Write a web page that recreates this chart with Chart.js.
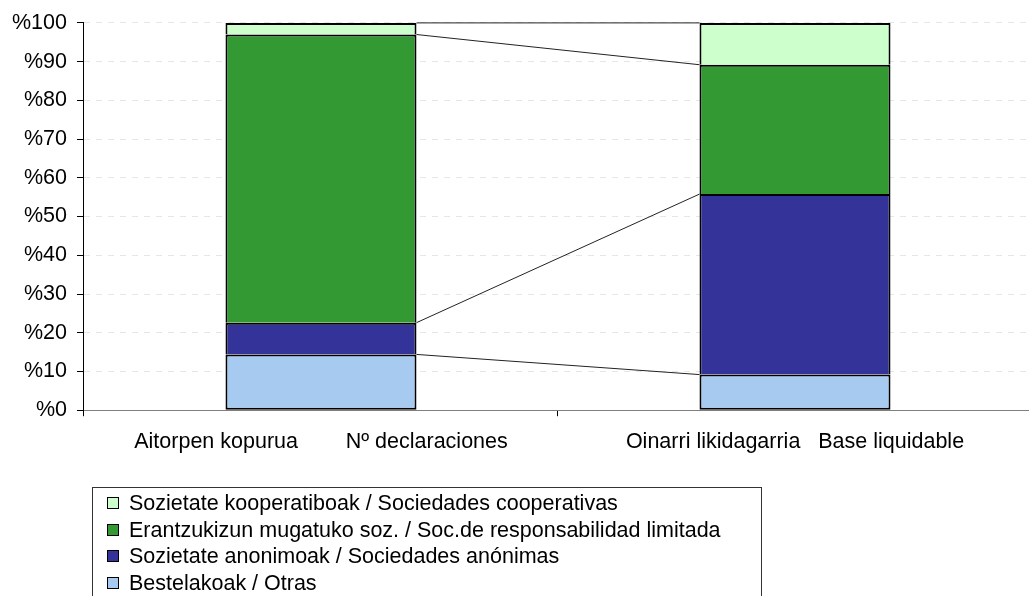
<!DOCTYPE html>
<html>
<head>
<meta charset="utf-8">
<script src="https://cdn.jsdelivr.net/npm/chart.js@4"></script>
<style>
  html, body { margin: 0; padding: 0; background: #fff; overflow: hidden; }
  #wrap { position: relative; width: 1029px; height: 596px; overflow: hidden; }
  #chart { position: absolute; left: 0; top: 0; }
  #legend {
    position: absolute; left: 92px; top: 487px; width: 670px; height: 130px;
    border: 1px solid #333; box-sizing: border-box; padding: 2px 0 0 14px;
    font-family: "Liberation Sans", Arial, sans-serif; font-size: 21.5px; color: #000;
  }
  #legend div { height: 26.5px; line-height: 26.5px; white-space: nowrap; }
  #legend span.sw { display: inline-block; width: 10px; height: 10px; border: 1px solid #000;
    margin-right: 10px; vertical-align: middle; position: relative; top: -1px; }
</style>
</head>
<body>
<div id="wrap">
  <canvas id="chart" width="1032" height="596"></canvas>
  <div id="legend"></div>
</div>
<script>
// Kategoriak
var categories = ['Aitorpen kopurua        Nº declaraciones', 'Oinarri likidagarria   Base liquidable'];

// Serieak (behetik gora)
var seriesNames = [
    'Bestelakoak / Otras',
    'Sozietate anonimoak / Sociedades anónimas',
    'Erantzukizun mugatuko soz. / Soc.de responsabilidad limitada',
    'Sozietate kooperatiboak / Sociedades cooperativas'
];
var bestelakoak = [14.4, 9.2];
var anonimoak = [8.2, 46.6];
var mugatuak = [74.4, 33.4];
var kooperatiboak = [3.0, 10.8];
var seriesColors = ['#a6caf0', '#333399', '#339933', '#ccffcc'];

var yTicks = [0, 10, 20, 30, 40, 50, 60, 70, 80, 90, 100];

var seriesData = [bestelakoak, anonimoak, mugatuak, kooperatiboak];

var fontFamily = '"Liberation Sans", Arial, sans-serif';

// Barren arteko lotura-lerroak
var seriesLines = {
    id: 'seriesLines',
    afterDatasetsDraw: function (chart) {
        var ctx = chart.ctx;
        var y = chart.scales.y;
        var m0 = chart.getDatasetMeta(0).data;
        var x1 = m0[0].x + m0[0].width / 2;
        var x2 = m0[1].x - m0[1].width / 2;
        var s1 = 0, s2 = 0;
        ctx.save();
        ctx.strokeStyle = '#222';
        ctx.lineWidth = 1;
        for (var i = 0; i < seriesData.length; i++) {
            s1 += seriesData[i][0];
            s2 += seriesData[i][1];
            ctx.beginPath();
            ctx.moveTo(x1, y.getPixelForValue(s1));
            ctx.lineTo(x2, y.getPixelForValue(s2));
            ctx.stroke();
        }
        ctx.restore();
    }
};

var ctx = document.getElementById('chart').getContext('2d');
new Chart(ctx, {
    type: 'bar',
    data: {
        labels: categories,
        datasets: seriesData.map(function (d, i) {
            return {
                label: seriesNames[i],
                data: d,
                backgroundColor: seriesColors[i],
                borderColor: '#000',
                // goiko ertza beti, behekoa lehen seriean bakarrik
                borderWidth: { left: 2, right: 2, top: 2, bottom: i === 0 ? 2 : 0 },
                borderSkipped: false,
                barPercentage: 0.403,
                categoryPercentage: 1
            };
        })
    },
    options: {
        responsive: false,
        animation: false,
        layout: {
            padding: { left: 2, top: 22, right: 0, bottom: 128 }
        },
        scales: {
            x: {
                stacked: true,
                grid: {
                    drawOnChartArea: false,
                    drawTicks: true,
                    tickLength: 6,
                    tickColor: '#000'
                },
                border: { color: '#808080', width: 1 },
                ticks: {
                    color: '#000',
                    padding: 13,
                    maxRotation: 0,
                    font: { family: fontFamily, size: 21.5 }
                }
            },
            y: {
                stacked: true,
                min: 0,
                max: 100,
                afterBuildTicks: function (axis) {
                    axis.ticks = yTicks.map(function (v) { return { value: v }; });
                },
                grid: {
                    color: '#e6e6e6',
                    lineWidth: 1,
                    tickLength: 7,
                    tickColor: '#000',
                    tickBorderDash: []
                },
                border: { color: '#000', width: 1, dash: [6, 6] },
                ticks: {
                    color: '#000',
                    padding: 10,
                    font: { family: fontFamily, size: 21.5 },
                    callback: function (v) { return '%' + v; }
                }
            }
        },
        plugins: {
            legend: { display: false },
            tooltip: { enabled: false }
        }
    },
    plugins: [seriesLines]
});

// Legenda (goitik behera)
var legend = document.getElementById('legend');
for (var i = seriesNames.length - 1; i >= 0; i--) {
    var row = document.createElement('div');
    var sw = document.createElement('span');
    sw.className = 'sw';
    sw.style.background = seriesColors[i];
    row.appendChild(sw);
    row.appendChild(document.createTextNode(seriesNames[i]));
    legend.appendChild(row);
}
</script>
</body>
</html>
